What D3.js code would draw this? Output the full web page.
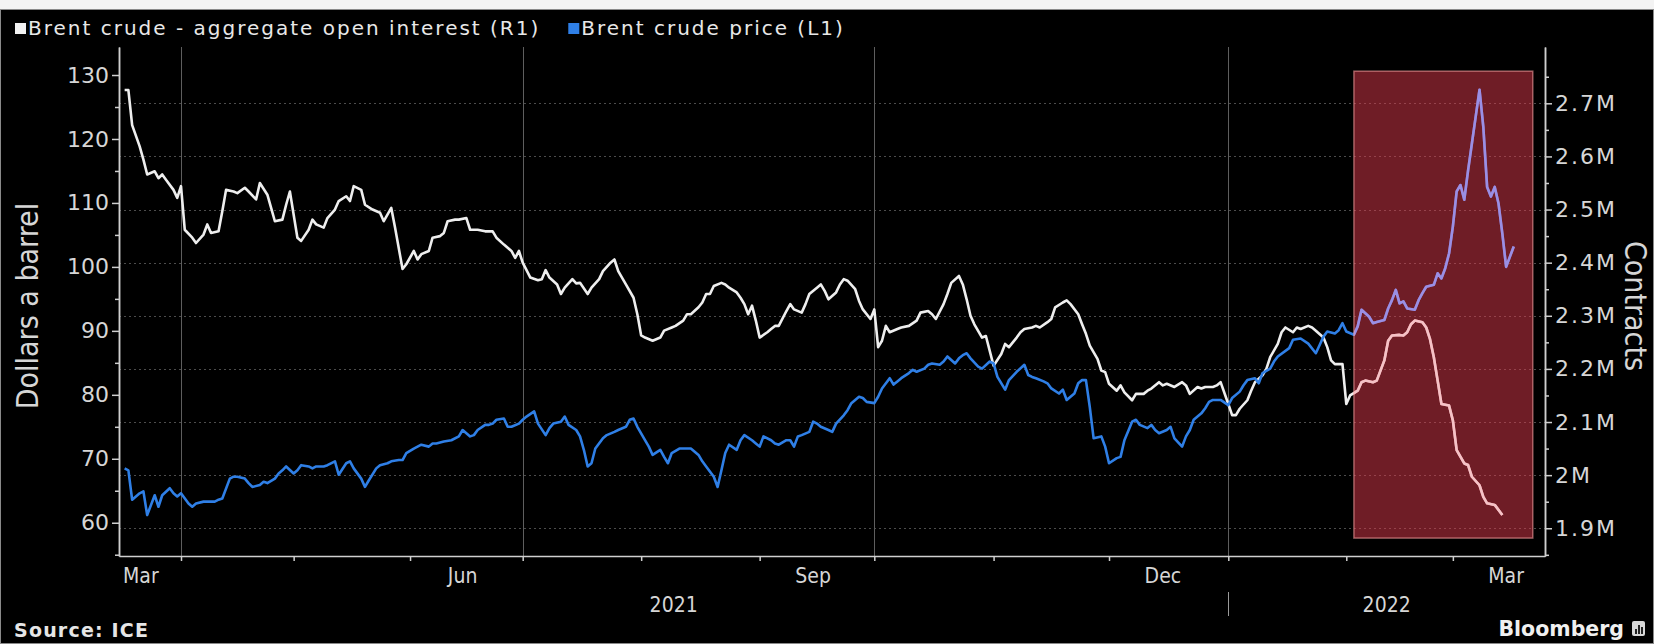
<!DOCTYPE html>
<html>
<head>
<meta charset="utf-8">
<script src="https://cdn.jsdelivr.net/npm/d3@7"></script>
<style>
  html, body { margin: 0; padding: 0; background: #000; }
  svg { display: block; }
</style>
</head>
<body>
<svg id="chart" width="1654" height="644"></svg>
<script>
// Brent crude price, dollars a barrel (left axis)
const brentPrice = [
  ["2021-03-17",68.5],["2021-03-18",68.2],["2021-03-19",63.6],["2021-03-21",64.6],["2021-03-22",64.9],["2021-03-23",61.2],["2021-03-25",64.3],["2021-03-26",62.5],["2021-03-27",64.3],["2021-03-29",65.4],["2021-03-30",64.6],["2021-03-31",64.1],
  ["2021-04-01",64.6],["2021-04-03",63.0],["2021-04-04",62.5],["2021-04-05",63.0],["2021-04-07",63.3],["2021-04-08",63.3],["2021-04-10",63.3],["2021-04-11",63.6],["2021-04-12",63.8],["2021-04-14",66.9],["2021-04-15",67.2],["2021-04-16",67.2],["2021-04-18",66.9],["2021-04-19",66.2],["2021-04-20",65.6],["2021-04-22",65.9],["2021-04-23",66.4],["2021-04-24",66.2],["2021-04-26",66.9],["2021-04-27",67.7],["2021-04-28",68.2],["2021-04-29",68.8],
  ["2021-05-01",67.7],["2021-05-02",68.2],["2021-05-03",69.0],["2021-05-05",68.8],["2021-05-06",68.5],["2021-05-07",68.8],["2021-05-09",68.8],["2021-05-10",69.0],["2021-05-12",69.6],["2021-05-13",67.5],["2021-05-15",69.3],["2021-05-16",69.6],["2021-05-17",68.5],["2021-05-19",66.9],["2021-05-20",65.6],["2021-05-21",66.6],["2021-05-23",68.5],["2021-05-24",69.0],["2021-05-26",69.3],["2021-05-27",69.6],["2021-05-29",69.8],["2021-05-30",69.8],["2021-05-31",70.9],
  ["2021-06-02",71.6],["2021-06-03",71.9],["2021-06-04",72.2],["2021-06-06",71.9],["2021-06-07",72.4],["2021-06-08",72.4],["2021-06-10",72.7],["2021-06-12",72.9],["2021-06-14",73.5],["2021-06-15",74.5],["2021-06-17",73.5],["2021-06-18",73.7],["2021-06-19",74.5],["2021-06-21",75.3],["2021-06-22",75.3],["2021-06-23",75.5],["2021-06-24",76.1],["2021-06-26",76.3],["2021-06-27",75.0],["2021-06-28",75.0],["2021-06-30",75.5],
  ["2021-07-01",76.1],["2021-07-02",76.6],["2021-07-04",77.4],["2021-07-05",75.5],["2021-07-07",73.7],["2021-07-08",74.8],["2021-07-09",75.5],["2021-07-11",75.8],["2021-07-12",76.6],["2021-07-13",75.3],["2021-07-15",74.5],["2021-07-16",73.5],["2021-07-17",71.4],["2021-07-18",68.8],["2021-07-19",69.3],["2021-07-20",71.6],["2021-07-22",73.2],["2021-07-23",73.7],["2021-07-25",74.2],["2021-07-26",74.5],["2021-07-28",75.0],["2021-07-29",76.1],["2021-07-30",76.3],["2021-07-31",75.0],
  ["2021-08-02",72.9],["2021-08-03",71.9],["2021-08-04",70.6],["2021-08-06",71.4],["2021-08-07",70.3],["2021-08-08",69.3],["2021-08-09",70.9],["2021-08-11",71.6],["2021-08-14",71.6],["2021-08-16",70.6],["2021-08-17",69.6],["2021-08-18",68.8],["2021-08-20",67.2],["2021-08-21",65.6],["2021-08-22",68.2],["2021-08-23",70.9],["2021-08-24",72.2],["2021-08-26",71.4],["2021-08-27",72.9],["2021-08-28",73.7],["2021-08-30",72.9],["2021-08-31",72.4],
  ["2021-09-01",71.9],["2021-09-02",73.5],["2021-09-04",72.9],["2021-09-05",72.4],["2021-09-06",72.2],["2021-09-08",72.9],["2021-09-09",72.9],["2021-09-10",71.9],["2021-09-11",73.5],["2021-09-12",73.7],["2021-09-14",74.2],["2021-09-15",75.8],["2021-09-16",75.5],["2021-09-17",75.0],["2021-09-19",74.5],["2021-09-20",74.2],["2021-09-21",75.5],["2021-09-23",76.8],["2021-09-24",77.6],["2021-09-25",78.7],["2021-09-27",79.7],["2021-09-28",79.5],["2021-09-29",78.9],
  ["2021-10-01",78.7],["2021-10-02",79.7],["2021-10-03",81.0],["2021-10-05",82.6],["2021-10-06",81.6],["2021-10-07",82.1],["2021-10-08",82.6],["2021-10-10",83.4],["2021-10-11",83.9],["2021-10-12",83.6],["2021-10-14",84.1],["2021-10-15",84.7],["2021-10-16",84.9],["2021-10-18",84.7],["2021-10-19",85.2],["2021-10-20",86.0],["2021-10-22",84.9],["2021-10-23",85.7],["2021-10-24",86.2],["2021-10-25",86.5],["2021-10-26",85.7],["2021-10-28",84.4],["2021-10-29",84.1],["2021-10-31",85.2],
  ["2021-11-01",84.9],["2021-11-02",82.8],["2021-11-04",80.8],["2021-11-05",82.3],["2021-11-07",83.6],["2021-11-09",84.7],["2021-11-10",83.1],["2021-11-11",82.8],["2021-11-12",82.6],["2021-11-14",82.1],["2021-11-15",81.8],["2021-11-16",81.0],["2021-11-18",80.2],["2021-11-19",80.8],["2021-11-20",79.2],["2021-11-22",80.2],["2021-11-23",81.8],["2021-11-24",82.3],["2021-11-25",82.3],["2021-11-26",78.1],["2021-11-27",73.2],["2021-11-29",73.5],["2021-11-30",71.9],
  ["2021-12-01",69.3],["2021-12-03",70.1],["2021-12-04",70.3],["2021-12-05",72.9],["2021-12-07",75.8],["2021-12-08",76.1],["2021-12-09",75.3],["2021-12-11",74.8],["2021-12-12",75.3],["2021-12-13",74.5],["2021-12-14",74.0],["2021-12-16",74.5],["2021-12-17",75.0],["2021-12-18",73.2],["2021-12-20",71.9],["2021-12-21",73.5],["2021-12-22",74.5],["2021-12-23",76.1],["2021-12-25",77.1],["2021-12-26",77.9],["2021-12-27",78.9],["2021-12-28",79.2],["2021-12-30",79.2],
  ["2022-01-01",78.4],["2022-01-02",79.5],["2022-01-04",80.5],["2022-01-05",81.5],["2022-01-06",82.3],["2022-01-08",82.6],["2022-01-09",81.8],["2022-01-10",83.4],["2022-01-12",84.1],["2022-01-13",85.2],["2022-01-14",86.0],["2022-01-17",87.3],["2022-01-18",88.6],["2022-01-20",88.8],["2022-01-22",88.0],["2022-01-24",86.5],["2022-01-25",87.8],["2022-01-26",89.1],["2022-01-27",89.9],["2022-01-29",89.6],["2022-01-30",90.1],["2022-01-31",91.2],
  ["2022-02-01",89.9],["2022-02-03",89.4],["2022-02-04",90.7],["2022-02-05",93.3],["2022-02-07",92.2],["2022-02-08",91.2],["2022-02-09",91.4],["2022-02-11",91.7],["2022-02-12",93.5],["2022-02-13",94.8],["2022-02-14",96.4],["2022-02-15",94.3],["2022-02-16",94.6],["2022-02-17",93.5],["2022-02-19",93.3],["2022-02-20",94.8],["2022-02-21",95.9],["2022-02-22",96.9],["2022-02-24",97.2],["2022-02-25",99.0],["2022-02-26",98.2],["2022-02-27",99.8],["2022-02-28",102.1],
  ["2022-03-01",106.3],["2022-03-02",111.8],["2022-03-03",112.8],["2022-03-04",110.5],["2022-03-05",115.1],["2022-03-06",119.3],["2022-03-07",123.5],["2022-03-08",127.7],["2022-03-09",121.9],["2022-03-10",112.5],["2022-03-11",111.0],["2022-03-12",112.5],["2022-03-13",109.9],["2022-03-14",105.2],["2022-03-15",100.0],["2022-03-16",101.6],["2022-03-17",103.2]
];

// Brent crude aggregate open interest, millions of contracts (right axis)
const openInterest = [
  ["2021-03-17",2.725],["2021-03-18",2.725],["2021-03-19",2.659],["2021-03-21",2.619],["2021-03-22",2.594],["2021-03-23",2.566],["2021-03-25",2.572],["2021-03-26",2.559],["2021-03-27",2.566],["2021-03-28",2.556],["2021-03-30",2.537],["2021-03-31",2.522],
  ["2021-04-01",2.544],["2021-04-02",2.462],["2021-04-04",2.447],["2021-04-05",2.437],["2021-04-07",2.453],["2021-04-08",2.472],["2021-04-09",2.456],["2021-04-11",2.459],["2021-04-12",2.497],["2021-04-13",2.537],["2021-04-15",2.534],["2021-04-16",2.531],["2021-04-18",2.541],["2021-04-19",2.534],["2021-04-21",2.519],["2021-04-22",2.55],["2021-04-24",2.528],["2021-04-25",2.503],["2021-04-26",2.478],["2021-04-28",2.481],["2021-04-29",2.509],["2021-04-30",2.534],
  ["2021-05-02",2.447],["2021-05-03",2.441],["2021-05-05",2.462],["2021-05-06",2.481],["2021-05-07",2.472],["2021-05-09",2.466],["2021-05-10",2.484],["2021-05-12",2.5],["2021-05-13",2.516],["2021-05-15",2.525],["2021-05-16",2.516],["2021-05-17",2.544],["2021-05-19",2.537],["2021-05-20",2.509],["2021-05-22",2.5],["2021-05-24",2.494],["2021-05-25",2.478],["2021-05-27",2.503],["2021-05-28",2.466],["2021-05-30",2.388],["2021-05-31",2.397],
  ["2021-06-02",2.422],["2021-06-03",2.406],["2021-06-04",2.416],["2021-06-06",2.422],["2021-06-07",2.447],["2021-06-09",2.45],["2021-06-10",2.456],["2021-06-11",2.478],["2021-06-13",2.481],["2021-06-14",2.481],["2021-06-16",2.484],["2021-06-17",2.462],["2021-06-19",2.462],["2021-06-21",2.459],["2021-06-23",2.459],["2021-06-24",2.447],["2021-06-26",2.434],["2021-06-28",2.422],["2021-06-29",2.409],["2021-06-30",2.422],
  ["2021-07-01",2.4],["2021-07-03",2.372],["2021-07-05",2.367],["2021-07-06",2.369],["2021-07-07",2.386],["2021-07-08",2.372],["2021-07-10",2.359],["2021-07-11",2.341],["2021-07-12",2.353],["2021-07-14",2.369],["2021-07-15",2.361],["2021-07-16",2.362],["2021-07-18",2.341],["2021-07-19",2.353],["2021-07-21",2.369],["2021-07-22",2.384],["2021-07-24",2.4],["2021-07-25",2.406],["2021-07-26",2.384],["2021-07-28",2.359],["2021-07-30",2.334],["2021-07-31",2.303],
  ["2021-08-01",2.263],["2021-08-02",2.259],["2021-08-04",2.253],["2021-08-06",2.259],["2021-08-07",2.272],["2021-08-09",2.278],["2021-08-10",2.281],["2021-08-12",2.291],["2021-08-13",2.303],["2021-08-14",2.303],["2021-08-16",2.316],["2021-08-17",2.325],["2021-08-18",2.341],["2021-08-19",2.341],["2021-08-20",2.356],["2021-08-22",2.362],["2021-08-23",2.359],["2021-08-24",2.353],["2021-08-26",2.344],["2021-08-27",2.334],["2021-08-28",2.322],["2021-08-29",2.303],["2021-08-30",2.319],["2021-08-31",2.291],
  ["2021-09-01",2.259],["2021-09-03",2.269],["2021-09-04",2.275],["2021-09-05",2.281],["2021-09-06",2.281],["2021-09-08",2.309],["2021-09-09",2.322],["2021-09-10",2.312],["2021-09-12",2.306],["2021-09-13",2.322],["2021-09-14",2.341],["2021-09-16",2.353],["2021-09-17",2.359],["2021-09-18",2.347],["2021-09-19",2.331],["2021-09-21",2.344],["2021-09-22",2.359],["2021-09-23",2.369],["2021-09-24",2.366],["2021-09-26",2.35],["2021-09-27",2.328],["2021-09-28",2.312],["2021-09-30",2.294],
  ["2021-10-01",2.312],["2021-10-02",2.241],["2021-10-03",2.253],["2021-10-04",2.281],["2021-10-05",2.269],["2021-10-07",2.275],["2021-10-08",2.278],["2021-10-10",2.281],["2021-10-12",2.291],["2021-10-13",2.306],["2021-10-15",2.309],["2021-10-16",2.303],["2021-10-17",2.294],["2021-10-19",2.322],["2021-10-20",2.341],["2021-10-21",2.362],["2021-10-23",2.375],["2021-10-24",2.359],["2021-10-25",2.331],["2021-10-26",2.3],["2021-10-27",2.284],["2021-10-29",2.259],["2021-10-30",2.262],["2021-10-31",2.234],
  ["2021-11-01",2.206],["2021-11-03",2.228],["2021-11-04",2.247],["2021-11-05",2.241],["2021-11-07",2.259],["2021-11-08",2.269],["2021-11-09",2.275],["2021-11-11",2.278],["2021-11-12",2.281],["2021-11-13",2.278],["2021-11-15",2.288],["2021-11-16",2.294],["2021-11-17",2.316],["2021-11-19",2.325],["2021-11-20",2.329],["2021-11-21",2.322],["2021-11-23",2.303],["2021-11-24",2.284],["2021-11-25",2.266],["2021-11-26",2.244],["2021-11-28",2.219],["2021-11-29",2.197],["2021-11-30",2.194],
  ["2021-12-01",2.172],["2021-12-03",2.159],["2021-12-04",2.169],["2021-12-05",2.156],["2021-12-07",2.141],["2021-12-08",2.153],["2021-12-10",2.153],["2021-12-11",2.159],["2021-12-12",2.163],["2021-12-14",2.175],["2021-12-15",2.169],["2021-12-16",2.172],["2021-12-18",2.166],["2021-12-20",2.175],["2021-12-21",2.169],["2021-12-22",2.153],["2021-12-24",2.166],["2021-12-25",2.163],["2021-12-26",2.166],["2021-12-28",2.166],["2021-12-29",2.169],["2021-12-30",2.175],
  ["2022-01-01",2.134],["2022-01-02",2.113],["2022-01-03",2.113],["2022-01-04",2.125],["2022-01-06",2.141],["2022-01-07",2.159],["2022-01-08",2.175],["2022-01-10",2.188],["2022-01-11",2.2],["2022-01-12",2.222],["2022-01-14",2.247],["2022-01-15",2.269],["2022-01-16",2.278],["2022-01-18",2.269],["2022-01-19",2.278],["2022-01-20",2.275],["2022-01-22",2.281],["2022-01-23",2.278],["2022-01-24",2.272],["2022-01-26",2.259],["2022-01-27",2.241],["2022-01-28",2.216],["2022-01-29",2.209],["2022-01-31",2.209],
  ["2022-02-01",2.134],["2022-02-02",2.15],["2022-02-04",2.159],["2022-02-05",2.175],["2022-02-06",2.178],["2022-02-08",2.175],["2022-02-09",2.178],["2022-02-11",2.216],["2022-02-12",2.253],["2022-02-13",2.263],["2022-02-15",2.264],["2022-02-16",2.263],["2022-02-17",2.269],["2022-02-18",2.284],["2022-02-19",2.291],["2022-02-21",2.288],["2022-02-22",2.278],["2022-02-23",2.256],["2022-02-24",2.222],["2022-02-25",2.178],["2022-02-26",2.134],["2022-02-28",2.131],
  ["2022-03-01",2.103],["2022-03-02",2.047],["2022-03-04",2.022],["2022-03-05",2.019],["2022-03-06",1.997],["2022-03-08",1.981],["2022-03-09",1.959],["2022-03-10",1.947],["2022-03-12",1.944],["2022-03-14",1.925]
];

const priceTicks = [60, 70, 80, 90, 100, 110, 120, 130];
const priceMinorTicks = [55, 65, 75, 85, 95, 105, 115, 125];
const oiTicks = [1.9, 2.0, 2.1, 2.2, 2.3, 2.4, 2.5, 2.6, 2.7];
const oiMinorTicks = [1.85, 1.95, 2.05, 2.15, 2.25, 2.35, 2.45, 2.55, 2.65, 2.75];
const quarterLabels = [["2021-03-01","Mar"],["2021-06-01","Jun"],["2021-09-01","Sep"],["2021-12-01","Dec"],["2022-03-01","Mar"]];
const yearLabels = ["2021", "2022"];
const quarterStarts = ["2021-04-01", "2021-07-01", "2021-10-01", "2022-01-01"];
const legendItems = [["Brent crude - aggregate open interest (R1)", "#f2f2f2"], ["Brent crude price (L1)", "#2f7fe6"]];
// shaded window: dates and price-axis extent
const highlightDates = ["2022-02-03", "2022-03-22"];
const highlightPrice = [57.6, 130.6];

const W = 1654, H = 644;
const plot = { left: 119, right: 1545, top: 47, bottom: 556 };
const parse = d3.utcParse("%Y-%m-%d");
const COND = '"DejaVu Sans Condensed","DejaVu Sans",sans-serif';
const SANS = '"DejaVu Sans",Verdana,sans-serif';
const LABEL = "#d6d6d6";

// time axis: quarter boundaries pinned along the plot width
const axisStart = new Date(Date.UTC(2021, 2, 15, 12));
const axisEnd = new Date(Date.UTC(2022, 2, 25, 5));
const x = d3.scaleUtc()
  .domain([axisStart, ...quarterStarts.map(parse), axisEnd])
  .range([plot.left, 181, 522.7, 874.3, 1228.3, plot.right]);
const yL = d3.scaleLinear().domain([54.8, 134.38]).range([plot.bottom, plot.top]);
const yR = d3.scaleLinear().domain([1.8478, 2.806]).range([plot.bottom, plot.top]);

const svg = d3.select("#chart");

// page background and frame
svg.append("rect").attr("width", W).attr("height", H).attr("fill", "#000");
svg.append("rect").attr("x", 0).attr("y", 0).attr("width", W).attr("height", 9).attr("fill", "#f3f3f3");
svg.append("rect").attr("x", 0.5).attr("y", 9.5).attr("width", W - 1).attr("height", H - 10)
  .attr("fill", "none").attr("stroke", "#8a8a8a").attr("stroke-width", 1);

// horizontal dotted grid on the contracts ticks
svg.append("g").selectAll("line").data(oiTicks).join("line")
  .attr("x1", plot.left).attr("x2", plot.right)
  .attr("y1", d => Math.round(yR(d)) + 0.5).attr("y2", d => Math.round(yR(d)) + 0.5)
  .attr("stroke", "#4c4c4c").attr("stroke-width", 1).attr("stroke-dasharray", "2,3");

// vertical grid at quarter starts
svg.append("g").selectAll("line").data(quarterStarts).join("line")
  .attr("x1", d => Math.round(x(parse(d))) + 0.5).attr("x2", d => Math.round(x(parse(d))) + 0.5)
  .attr("y1", plot.top).attr("y2", plot.bottom)
  .attr("stroke", "#5e5e5e").attr("stroke-width", 1);

// series
const priceLine = d3.line().x(d => x(parse(d[0]))).y(d => yL(d[1]));
const oiLine = d3.line().x(d => x(parse(d[0]))).y(d => yR(d[1]));
const LW = 2.6;

svg.append("path").datum(openInterest).attr("d", oiLine)
  .attr("fill", "none").attr("stroke", "#eeeeee").attr("stroke-width", LW).attr("stroke-linejoin", "round");
svg.append("path").datum(brentPrice).attr("d", priceLine)
  .attr("fill", "none").attr("stroke", "#2f7fe6").attr("stroke-width", LW).attr("stroke-linejoin", "round");

// translucent red window over the latest weeks
const hx0 = x(parse(highlightDates[0])), hx1 = x(parse(highlightDates[1]));
const hy0 = yL(highlightPrice[1]), hy1 = yL(highlightPrice[0]);
svg.append("rect")
  .attr("x", hx0).attr("y", hy0).attr("width", hx1 - hx0).attr("height", hy1 - hy0)
  .attr("fill", "rgba(222,58,76,0.5)");

// the two series seen through the window take a warm tint
svg.append("clipPath").attr("id", "window")
  .append("rect").attr("x", hx0).attr("y", hy0).attr("width", hx1 - hx0).attr("height", hy1 - hy0);
const tinted = svg.append("g").attr("clip-path", "url(#window)");
tinted.append("path").datum(openInterest).attr("d", oiLine)
  .attr("fill", "none").attr("stroke", "#f5c2c6").attr("stroke-width", LW).attr("stroke-linejoin", "round");
tinted.append("path").datum(brentPrice).attr("d", priceLine)
  .attr("fill", "none").attr("stroke", "#9a8fe4").attr("stroke-width", LW).attr("stroke-linejoin", "round");

svg.append("rect")
  .attr("x", hx0).attr("y", hy0).attr("width", hx1 - hx0).attr("height", hy1 - hy0)
  .attr("fill", "none").attr("stroke", "rgba(255,165,165,0.55)").attr("stroke-width", 1.5);

// axes
function styleAxis(g, size) {
  g.selectAll(".domain").attr("stroke", "#cfcfcf").attr("stroke-width", 1.5);
  g.selectAll(".tick line").attr("stroke", "#cfcfcf").attr("stroke-width", 1.5);
  g.selectAll(".tick text").attr("fill", LABEL).attr("font-family", SANS).attr("font-size", size || 20);
}

const leftMinor = svg.append("g").attr("transform", `translate(${plot.left},0)`)
  .call(d3.axisLeft(yL).tickValues(priceMinorTicks).tickSize(4).tickSizeOuter(0).tickFormat(""));
styleAxis(leftMinor);
const leftAxis = svg.append("g").attr("transform", `translate(${plot.left},0)`)
  .call(d3.axisLeft(yL).tickValues(priceTicks).tickSize(7).tickPadding(3).tickSizeOuter(0));
styleAxis(leftAxis, 22);

const rightMinor = svg.append("g").attr("transform", `translate(${plot.right},0)`)
  .call(d3.axisRight(yR).tickValues(oiMinorTicks).tickSize(4).tickSizeOuter(0).tickFormat(""));
styleAxis(rightMinor);
const rightAxis = svg.append("g").attr("transform", `translate(${plot.right},0)`)
  .call(d3.axisRight(yR).tickValues(oiTicks).tickSize(7).tickPadding(3).tickSizeOuter(0)
    .tickFormat(d => (+d.toFixed(1)) + "M"));
styleAxis(rightAxis, 22);
rightAxis.selectAll(".tick text").attr("letter-spacing", 2);

const bottomAxis = svg.append("g").attr("transform", `translate(0,${plot.bottom})`)
  .call(d3.axisBottom(x).ticks(d3.utcMonth.every(1)).tickSize(5).tickSizeOuter(0).tickFormat(""));
styleAxis(bottomAxis);

// month labels at mid-month, kept inside the plot's horizontal extent
svg.append("g").selectAll("text").data(quarterLabels).join("text")
  .attr("y", 583).attr("text-anchor", "middle")
  .attr("font-family", COND).attr("font-size", 21).attr("fill", LABEL)
  .text(d => d[1])
  .attr("x", function (d) {
    const half = this.getComputedTextLength() / 2 + 4;
    const mid = x(d3.utcDay.offset(parse(d[0]), 14));
    return Math.min(Math.max(mid, plot.left + half), plot.right - half);
  });

// year labels centred on each year's span
svg.append("g").selectAll("text").data(yearLabels).join("text")
  .attr("x", d => {
    const s = new Date(Date.UTC(+d, 0, 1)), e = new Date(Date.UTC(+d + 1, 0, 1));
    return (x(s < axisStart ? axisStart : s) + x(e > axisEnd ? axisEnd : e)) / 2;
  })
  .attr("y", 612).attr("text-anchor", "middle")
  .attr("font-family", COND).attr("font-size", 21).attr("fill", LABEL)
  .text(d => d);

// year divider
const yearEdge = Math.round(x(new Date(Date.UTC(2022, 0, 1)))) + 0.5;
svg.append("line").attr("x1", yearEdge).attr("x2", yearEdge).attr("y1", 592).attr("y2", 616)
  .attr("stroke", "#9a9a9a").attr("stroke-width", 1);

// axis titles
svg.append("text").attr("transform", "translate(38,306) rotate(-90)")
  .attr("text-anchor", "middle").attr("font-family", COND).attr("font-size", 30).attr("fill", LABEL)
  .text("Dollars a barrel");
svg.append("text").attr("transform", "translate(1625,306) rotate(90)")
  .attr("text-anchor", "middle").attr("font-family", COND).attr("font-size", 30).attr("fill", LABEL)
  .text("Contracts");

// legend
let lx = 15;
const legend = svg.append("g");
legendItems.forEach(([label, color]) => {
  legend.append("rect").attr("x", lx).attr("y", 23).attr("width", 11).attr("height", 11).attr("fill", color);
  const t = legend.append("text").attr("x", lx + 13).attr("y", 35)
    .attr("font-family", SANS).attr("font-size", 20).attr("letter-spacing", 2)
    .attr("fill", "#e8e8e8").text(label);
  lx += 13 + t.node().getComputedTextLength() + 28;
});

// footer
svg.append("text").attr("x", 14).attr("y", 637)
  .attr("font-family", SANS).attr("font-weight", "bold").attr("font-size", 19).attr("letter-spacing", 1.2)
  .attr("fill", "#e6e6e6").text("Source: ICE");
svg.append("text").attr("x", 1624).attr("y", 636).attr("text-anchor", "end")
  .attr("font-family", SANS).attr("font-weight", "bold").attr("font-size", 20.5).attr("fill", "#f0f0f0")
  .text("Bloomberg");
const logo = svg.append("g").attr("transform", "translate(1632,621)");
logo.append("rect").attr("width", 13).attr("height", 15).attr("rx", 2).attr("fill", "#d8d8d8");
[[3, 8], [6, 4], [9, 6]].forEach(([bx, by]) => {
  logo.append("rect").attr("x", bx).attr("y", by).attr("width", 2).attr("height", 13 - by).attr("fill", "#222");
});
</script>
</body>
</html>
